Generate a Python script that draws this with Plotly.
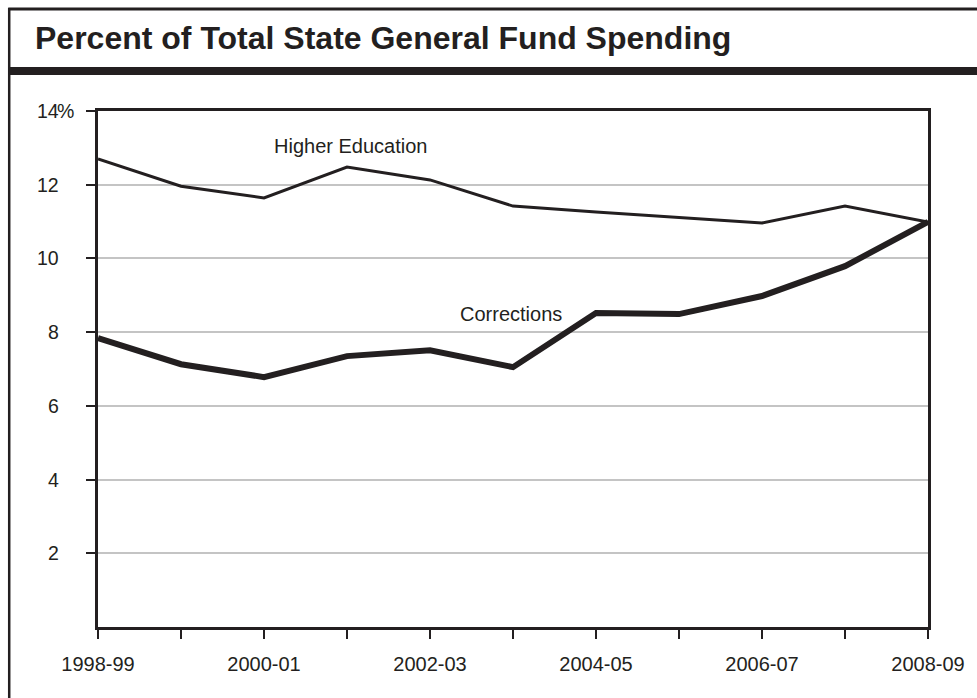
import plotly.graph_objects as go

years = ["1998-99", "1999-00", "2000-01", "2001-02", "2002-03", "2003-04",
         "2004-05", "2005-06", "2006-07", "2007-08", "2008-09"]
higher_ed = [12.70, 11.96, 11.64, 12.48, 12.13, 11.42, 11.26, 11.12, 10.96, 11.42, 10.99]
corrections = [7.84, 7.13, 6.78, 7.35, 7.51, 7.05, 8.52, 8.49, 8.98, 9.79, 10.99]
x_tick_labels = ["1998-99", "", "2000-01", "", "2002-03", "", "2004-05", "", "2006-07", "", "2008-09"]
y_tick_values = [2, 4, 6, 8, 10, 12, 14]
y_tick_labels = ["2", "4", "6", "8", "10", "12", "14"]
title = "Percent of Total State General Fund Spending"

INK = "#231f20"
W, H = 977, 698
L, R, T, B = 98, 47, 111, 71
PW, PH = W - L - R, H - T - B

def px(xp):
    return (xp - L) / PW

def py(yp):
    return (H - B - yp) / PH

fig = go.Figure()
fig.add_trace(go.Scatter(x=years, y=higher_ed, mode="lines",
                         line=dict(color=INK, width=3), name="Higher Education"))
fig.add_trace(go.Scatter(x=years, y=corrections, mode="lines",
                         line=dict(color=INK, width=6), name="Corrections"))

font = "Liberation Sans, Arial, Helvetica, sans-serif"
FS = 19.5

annotations = []
for v, t in zip(y_tick_values, y_tick_labels):
    annotations.append(dict(x=0, y=v, xref="paper", yref="y", text=t,
                            showarrow=False, xanchor="right", yanchor="middle",
                            xshift=-37, font=dict(size=FS, color=INK, family=font)))
annotations.append(dict(x=0, y=14, xref="paper", yref="y", text="%",
                        showarrow=False, xanchor="left", yanchor="middle",
                        xshift=-43, font=dict(size=FS, color=INK, family=font)))
annotations.append(dict(x=3.04, y=13.05, xref="x", yref="y", text="Higher Education",
                        showarrow=False, font=dict(size=20, color=INK, family=font)))
annotations.append(dict(x=4.97, y=8.49, xref="x", yref="y", text="Corrections",
                        showarrow=False, font=dict(size=20, color=INK, family=font)))
annotations.append(dict(x=px(33), y=py(38), xref="paper", yref="paper",
                        text="<b>" + title + "</b>", showarrow=False,
                        xanchor="left", yanchor="middle",
                        font=dict(size=32, color=INK, family=font)))

shapes = [
    dict(type="line", xref="paper", yref="paper", x0=px(8), x1=px(990),
         y0=py(9), y1=py(9), line=dict(color=INK, width=3)),
    dict(type="line", xref="paper", yref="paper", x0=px(9), x1=px(9),
         y0=py(8), y1=py(720), line=dict(color=INK, width=2.5)),
    dict(type="line", xref="paper", yref="paper", x0=px(8), x1=px(990),
         y0=py(71), y1=py(71), line=dict(color=INK, width=8)),
]

fig.update_layout(
    width=W, height=H,
    margin=dict(l=L, r=R, t=T, b=B),
    paper_bgcolor="white", plot_bgcolor="white",
    showlegend=False,
    annotations=annotations,
    shapes=shapes,
    font=dict(family=font, color=INK, size=FS),
)
fig.update_xaxes(type="category", range=[0, 10], tickmode="array",
                 tickvals=years, ticktext=x_tick_labels,
                 ticks="outside", ticklen=9, tickwidth=2, tickcolor=INK,
                 showline=True, linewidth=2.5, linecolor=INK, mirror=True,
                 showgrid=False, zeroline=False,
                 tickfont=dict(size=20, color=INK, family=font),
                 ticklabelstandoff=8)
fig.update_yaxes(range=[0, 14], tickmode="array", tickvals=y_tick_values,
                 ticktext=["" for _ in y_tick_values],
                 ticks="outside", ticklen=9, tickwidth=2, tickcolor=INK,
                 showline=True, linewidth=2.5, linecolor=INK, mirror=True,
                 showgrid=True, gridcolor="#c4c4c4", gridwidth=2,
                 zeroline=False)

fig.write_html("out.html", config={"displayModeBar": False},
               post_script="document.body.style.margin='0px';document.body.style.overflow='hidden';")
